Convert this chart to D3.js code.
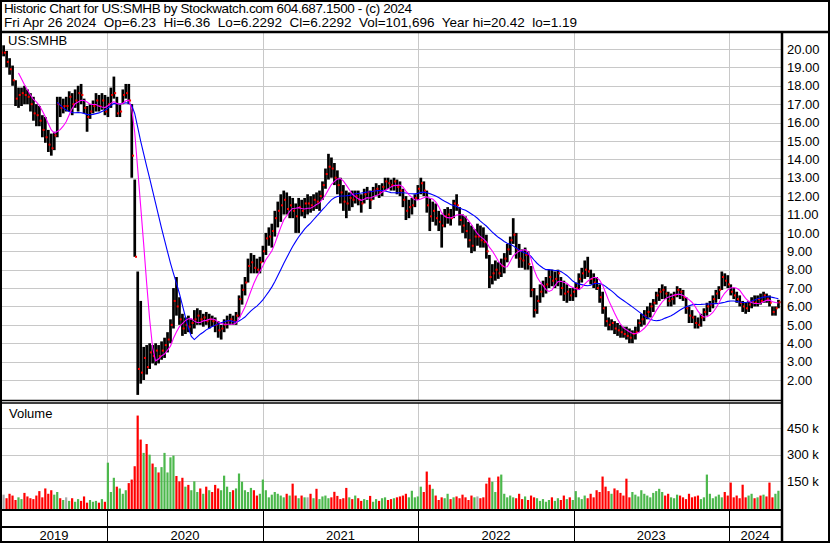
<!DOCTYPE html>
<html><head><meta charset="utf-8">
<script src="https://cdn.jsdelivr.net/npm/d3@7"></script>
<style>
html,body{margin:0;padding:0;background:#fff;}
svg{display:block;}
text{font-family:"Liberation Sans",Arial,sans-serif;white-space:pre;}
</style>
</head><body>
<svg id="c" width="830" height="543"></svg>
<script>
// ---------------- DATA (weekly) ----------------
const startDate = "2019-04-26";
const endDate = "2024-04-26";
const titleLine1 = "Historic Chart for US:SMHB by Stockwatch.com 604.687.1500 - (c) 2024";
const titleLine2 = "Fri Apr 26 2024  Op=6.23  Hi=6.36  Lo=6.2292  Cl=6.2292  Vol=101,696  Year hi=20.42  lo=1.19";
const symbolLabel = "US:SMHB";
const volumeLabel = "Volume";
const priceTicks = [2,3,4,5,6,7,8,9,10,11,12,13,14,15,16,17,18,19,20];
const volumeTicks = [150,300,450]; // thousands

const closes = [
 19.8,19.8,19.3,18.9,18.3,17.3,17.5,17.6,17.5,17.4,
 17.0,16.5,16.4,16.1,15.6,15.2,14.8,14.6,15.3,17.0,
 16.8,16.9,16.9,17.4,17.0,17.2,17.6,17.5,16.8,16.3,
 16.6,16.9,17.2,16.9,17.2,16.6,17.0,17.5,17.6,16.5,
 16.6,17.5,17.6,17.2,
 14.2,8.7,2.6,2.4,3.2,2.7,3.5,3.3,3.6,3.3,3.6,3.9,4.2,5.0,6.3,6.0,5.3,
 4.8,5.0,4.9,5.1,5.3,5.5,5.3,5.4,5.2,5.3,
 5.2,5.0,4.7,4.8,5.0,5.2,5.3,5.2,5.5,6.4,
 6.9,7.3,8.2,8.4,8.1,8.0,8.4,9.0,9.7,9.8,
 10.1,10.8,11.2,11.5,11.8,11.3,11.5,11.2,10.9,11.4,
 11.2,11.6,11.6,11.5,11.8,11.7,12.0,12.6,13.2,13.6,
 13.5,13.0,12.6,12.2,11.7,11.6,11.9,11.8,12.0,11.8,
 11.6,12.1,12.2,11.8,12.3,12.4,12.2,12.5,12.8,12.7,
 12.6,12.8,12.5,12.3,11.8,11.2,11.4,11.5,11.9,12.4,
 12.7,12.3,11.5,10.9,11.2,10.8,10.6,10.4,10.9,11.0,
 10.8,11.6,11.5,10.7,10.4,10.1,9.6,9.3,9.8,9.8,
 9.6,9.5,9.0,7.6,7.8,8.0,7.8,8.2,8.6,9.1,
 9.6,9.9,9.1,8.6,8.5,8.8,8.3,6.9,5.8,6.3,
 6.8,7.1,7.2,7.6,7.4,7.5,7.8,7.0,6.7,6.8,
 6.6,6.8,7.0,7.5,7.8,8.0,7.9,7.5,7.3,7.0,
 6.5,5.9,5.2,5.0,5.1,4.8,4.7,4.6,4.5,4.4,
 4.3,4.5,4.6,5.1,5.3,5.5,5.7,6.0,6.2,6.6,
 6.8,6.9,6.7,6.3,6.4,6.6,6.9,6.8,6.5,5.9,
 5.5,5.4,5.1,5.0,5.4,5.7,6.0,6.1,6.4,6.7,
 6.9,7.6,7.4,7.2,6.8,6.6,6.4,6.2,6.0,5.9,
 6.1,6.3,6.2,6.4,6.3,6.6,6.4,6.2,5.7,5.9,6.23
];
const highs = [
 20.4,20.2,19.9,19.5,19.1,18.3,17.9,17.9,18.0,17.8,
 17.6,17.4,17.0,16.9,16.4,16.3,15.6,15.4,15.5,17.4,
 17.4,17.3,17.4,17.7,17.6,17.8,18.0,18.1,17.3,16.9,
 17.0,17.2,17.6,17.5,17.6,17.5,17.4,17.9,18.5,17.4,
 17.0,17.8,18.1,18.1,
 17.0,12.9,7.9,6.3,3.8,3.9,4.0,3.9,4.0,3.9,4.1,4.3,4.6,5.3,7.0,7.6,6.5,
 5.6,5.4,5.5,5.3,5.8,5.9,5.8,5.6,5.7,5.6,
 5.5,5.4,5.2,5.0,5.3,5.5,5.6,5.5,5.7,6.6,
 7.2,7.6,8.6,8.9,8.8,8.6,8.7,9.3,10.0,10.3,
 10.5,11.2,11.7,12.1,12.3,12.2,12.0,11.9,11.6,11.9,
 11.8,11.9,12.1,12.0,12.1,12.2,12.3,12.8,13.5,14.3,
 14.1,13.8,13.4,13.0,12.6,12.3,12.2,12.3,12.3,12.3,
 12.1,12.4,12.5,12.3,12.5,12.7,12.6,12.7,13.0,13.0,
 12.9,13.0,12.9,12.8,12.4,12.0,11.8,11.9,12.1,12.6,
 13.0,12.8,12.3,11.9,11.7,11.6,11.2,11.0,11.3,11.4,
 11.3,11.8,12.1,11.4,11.0,10.9,10.6,10.4,10.2,10.5,
 10.4,10.3,9.9,8.8,8.3,8.5,8.4,8.6,8.9,9.4,
 9.8,10.8,10.0,9.4,9.1,9.2,9.0,8.2,7.0,6.6,
 7.2,7.4,7.6,8.0,8.0,7.9,8.0,7.6,7.4,7.2,
 7.0,7.0,7.3,7.8,8.1,8.5,8.7,8.0,7.8,7.6,
 7.2,6.8,6.0,5.4,5.3,5.2,5.1,5.0,4.9,4.9,
 4.8,4.7,4.9,5.3,5.6,5.8,6.0,6.2,6.4,6.8,
 7.0,7.2,7.1,6.8,6.7,6.8,7.1,7.0,6.9,6.5,
 6.0,5.8,5.5,5.4,5.6,5.9,6.2,6.3,6.6,6.9,
 7.1,7.9,7.8,7.7,7.2,7.0,6.8,6.6,6.3,6.2,
 6.3,6.5,6.6,6.6,6.7,6.8,6.7,6.6,6.0,6.0,6.36
];
const lows = [
 19.5,19.6,19.0,18.6,18.0,16.9,16.8,16.9,17.0,17.0,
 16.6,16.1,15.8,15.8,15.2,14.9,14.4,14.2,14.5,15.2,
 16.3,16.5,16.6,16.6,16.4,16.8,16.6,17.0,16.5,15.5,
 16.2,16.5,16.6,16.6,16.7,16.4,16.3,16.8,17.3,16.3,
 16.3,17.0,17.3,17.0,
 13.0,8.7,1.19,1.8,2.0,2.3,2.6,2.9,2.8,2.9,3.1,3.2,3.5,4.0,4.8,5.5,5.0,
 4.4,4.5,4.6,4.5,4.8,5.0,5.0,4.9,5.0,4.8,
 4.9,4.6,4.3,4.2,4.6,4.8,5.0,5.0,5.0,5.4,
 6.1,6.6,7.3,7.8,7.8,7.8,7.8,8.4,8.8,9.3,
 9.2,9.8,10.3,10.6,11.0,11.0,10.8,10.8,10.0,10.0,
 10.9,10.8,11.0,11.1,11.2,11.3,11.2,11.8,12.4,12.9,
 13.0,12.6,12.1,11.6,11.2,10.8,11.2,11.4,11.6,11.5,
 11.1,11.6,11.8,11.3,11.8,12.0,11.9,12.0,12.3,12.4,
 12.3,12.3,12.1,12.0,11.4,10.7,10.8,11.0,11.4,11.8,
 12.1,12.0,11.1,10.1,10.6,10.4,10.1,9.2,10.3,10.5,
 10.4,10.8,11.2,10.4,10.0,9.7,9.2,8.9,9.0,9.3,
 9.2,9.2,8.6,7.0,7.2,7.4,7.5,7.6,7.8,8.4,
 8.8,9.4,8.6,8.1,8.1,8.0,8.0,6.5,5.4,5.6,
 6.2,6.5,6.7,7.0,7.1,7.0,7.1,6.6,6.3,6.2,
 6.3,6.3,6.5,6.9,7.3,7.5,7.6,7.2,7.0,6.9,
 6.2,5.6,4.9,4.7,4.7,4.5,4.4,4.3,4.3,4.2,
 4.0,4.0,4.2,4.6,4.9,5.0,5.3,5.4,5.7,6.1,
 6.3,6.4,6.4,6.0,6.0,6.1,6.5,6.4,6.3,5.6,
 5.1,5.1,4.8,4.8,4.9,5.2,5.5,5.7,5.9,6.2,
 6.4,6.9,7.1,7.0,6.6,6.4,6.2,6.0,5.7,5.6,
 5.7,5.9,6.0,6.0,6.1,6.2,6.2,6.0,5.5,5.5,5.9
];
const volumes = [ // thousands
 60,75,55,80,70,45,60,50,85,65,55,50,
 70,95,60,110,80,100,75,90,55,
 45,60,40,55,35,50,40,65,30,45,35,40,30,50,35,
 255,90,170,120,110,80,100,140,
 160,235,520,385,310,360,300,
 250,230,200,230,310,200,285,295,180,150,
 170,120,130,100,150,90,110,80,120,100,
 90,130,110,100,182,120,90,100,110,194,
 148,100,90,113,100,70,80,160,100,60,
 75,90,80,70,60,80,70,137,70,55,
 70,60,60,80,55,108,50,65,70,55,
 60,91,68,50,55,113,60,50,70,55,
 40,50,45,68,35,50,40,55,60,45,
 50,55,60,65,70,80,60,97,60,65,
 120,90,205,131,108,70,45,60,55,80,
 50,60,65,55,75,60,45,70,60,65,
 55,60,137,171,148,90,177,188,80,60,
 70,60,55,80,50,65,45,70,60,55,
 40,50,35,45,60,40,55,45,70,50,
 60,45,95,60,50,70,55,80,60,100,
 90,177,120,95,80,110,100,85,70,165,
 60,90,75,65,100,80,70,60,85,95,
 108,90,70,80,60,55,75,70,60,50,
 80,60,65,70,50,60,188,80,55,65,
 75,60,90,70,143,60,70,55,131,60,
 70,80,55,60,70,75,65,143,60,80,97
];
const shortMA = 7;   // weeks (magenta)
const longMA = 20;   // weeks (blue)

// ---------------- BUILD ----------------
const parse = d3.utcParse("%Y-%m-%d");
const d0 = parse(startDate), d1 = parse(endDate);
const fridays = d3.utcFriday.range(d0, d3.utcDay.offset(d1, 1));
const n = fridays.length;
[closes, highs, lows, volumes].forEach((a, k) => {
  if (a.length !== n) throw new Error("length mismatch arr " + k + ": " + a.length + " vs " + n);
});
const data = fridays.map((d, i) => ({date: d, c: closes[i], h: highs[i], l: lows[i], v: volumes[i]}));

const svg = d3.select("#c");
const W = 830, H = 543;
const plotL = 1, plotR = 781;
const priceTop = 33, priceBot = 400;
const volTop = 403, volBot = 509;

const x = d3.scaleUtc().domain([d0, d1]).range([0.6, 778.4]);
const y = d3.scaleLinear().domain([2, 20]).range([380, 49]);
const yv = d3.scaleLinear().domain([0, 450]).range([508, 428]);

svg.append("rect").attr("width", W).attr("height", H).attr("fill", "#fff");

// header
svg.append("text").attr("x", 4).attr("y", 12.5).attr("font-size", 13.5)
  .attr("textLength", 408).attr("lengthAdjust", "spacing").text(titleLine1);
svg.append("text").attr("x", 4).attr("y", 27).attr("font-size", 13.5)
  .attr("textLength", 573).attr("lengthAdjust", "spacing").text(titleLine2);

const grid = "#c8c8c8";
const yearStarts = d3.utcYear.range(d3.utcYear.ceil(d0), d1);

// price grid
const pg = svg.append("g");
pg.selectAll("line.h").data(priceTicks).join("line")
  .attr("x1", plotL).attr("x2", plotR)
  .attr("y1", d => Math.round(y(d)) + 0.5).attr("y2", d => Math.round(y(d)) + 0.5)
  .attr("stroke", grid);
pg.selectAll("line.v").data(yearStarts).join("line")
  .attr("x1", d => Math.round(x(d)) + 0.5).attr("x2", d => Math.round(x(d)) + 0.5)
  .attr("y1", priceTop).attr("y2", priceBot).attr("stroke", grid);

// volume grid
const vg = svg.append("g");
vg.selectAll("line.h").data(volumeTicks).join("line")
  .attr("x1", plotL).attr("x2", plotR)
  .attr("y1", d => Math.round(yv(d)) + 0.5).attr("y2", d => Math.round(yv(d)) + 0.5)
  .attr("stroke", grid);
vg.selectAll("line.v").data(yearStarts).join("line")
  .attr("x1", d => Math.round(x(d)) + 0.5).attr("x2", d => Math.round(x(d)) + 0.5)
  .attr("y1", volTop).attr("y2", volBot).attr("stroke", grid);

// clip for price panel
svg.append("clipPath").attr("id", "pc").append("rect")
  .attr("x", plotL).attr("y", priceTop).attr("width", plotR - plotL).attr("height", priceBot - priceTop);

const pp = svg.append("g").attr("clip-path", "url(#pc)");
// price bars
pp.selectAll("rect.bar").data(data).join("rect")
  .attr("x", d => x(d.date) - 1.3).attr("width", 2.7)
  .attr("y", d => y(d.h)).attr("height", d => Math.max(1, y(d.l) - y(d.h)))
  .attr("fill", "#000");
pp.selectAll("rect.cl").data(data).join("rect")
  .attr("x", d => x(d.date) + 0.3).attr("width", 2)
  .attr("y", d => y(d.c) - 1).attr("height", 2)
  .attr("fill", "#ff0000");

// moving averages
function sma(k) {
  return data.map((d, i) => i < k - 1 ? null : {date: d.date, v: d3.mean(data.slice(i - k + 1, i + 1), e => e.c)}).filter(e => e);
}
const line = d3.line().x(d => x(d.date)).y(d => y(d.v));
pp.append("path").datum(sma(longMA)).attr("d", line).attr("fill", "none").attr("stroke", "#0000ff").attr("stroke-width", 1.1);
pp.append("path").datum(sma(shortMA)).attr("d", line).attr("fill", "none").attr("stroke", "#ff00ff").attr("stroke-width", 1.1);

// volume bars
svg.append("g").selectAll("rect").data(data).join("rect")
  .attr("x", d => x(d.date) - 1.1).attr("width", 2.2)
  .attr("y", d => yv(d.v)).attr("height", d => volBot - yv(d.v))
  .attr("fill", (d, i) => i === 0 ? "#4cb84c" : (d.c < data[i - 1].c ? "#ff0000" : (d.c > data[i - 1].c ? "#4cb84c" : "#aaaaaa")));

// labels
svg.append("text").attr("x", 8).attr("y", 45).attr("font-size", 13).text(symbolLabel);
svg.append("text").attr("x", 9).attr("y", 418).attr("font-size", 13).text(volumeLabel);

// axes
const ax = svg.append("g").attr("transform", `translate(${plotR},0)`)
  .call(d3.axisRight(y).tickValues(priceTicks).tickFormat(d3.format(".2f")).tickSize(0).tickPadding(6));
ax.select(".domain").remove();
ax.selectAll("text").attr("font-size", 13).attr("font-family", "Liberation Sans, Arial, sans-serif").attr("fill", "#000");
const avx = svg.append("g").attr("transform", `translate(${plotR},0)`)
  .call(d3.axisRight(yv).tickValues(volumeTicks).tickFormat(d => d + " k").tickSize(0).tickPadding(6));
avx.select(".domain").remove();
avx.selectAll("text").attr("font-size", 13).attr("font-family", "Liberation Sans, Arial, sans-serif").attr("fill", "#000");

// frame lines
const fr = svg.append("g").attr("stroke", "#000").attr("fill", "none");
fr.append("rect").attr("x", 1).attr("y", 1).attr("width", W - 2).attr("height", H - 2).attr("stroke-width", 2);
fr.append("line").attr("x1", 0).attr("x2", W).attr("y1", 32).attr("y2", 32).attr("stroke-width", 2.5);
fr.append("line").attr("x1", plotR + 1).attr("x2", plotR + 1).attr("y1", 31).attr("y2", H).attr("stroke-width", 2.5);
fr.append("line").attr("x1", 0).attr("x2", plotR).attr("y1", 400.5).attr("y2", 400.5).attr("stroke-width", 1.5);
fr.append("line").attr("x1", 0).attr("x2", plotR).attr("y1", 403).attr("y2", 403).attr("stroke-width", 1.5);
fr.append("line").attr("x1", 0).attr("x2", plotR).attr("y1", 510).attr("y2", 510).attr("stroke-width", 2);
fr.append("line").attr("x1", 0).attr("x2", plotR).attr("y1", 527).attr("y2", 527).attr("stroke-width", 2);
fr.selectAll("line.ys").data(yearStarts).join("line")
  .attr("x1", d => Math.round(x(d)) + 0.5).attr("x2", d => Math.round(x(d)) + 0.5)
  .attr("y1", 510).attr("y2", H).attr("stroke-width", 1);

// year labels
const bounds = [plotL, ...yearStarts.map(d => x(d)), plotR];
const yrs = [d3.utcYear.floor(d0), ...yearStarts];
svg.append("g").selectAll("text").data(yrs).join("text")
  .attr("x", (d, i) => (bounds[i] + bounds[i + 1]) / 2)
  .attr("y", 540).attr("text-anchor", "middle").attr("font-size", 13)
  .text(d => d3.utcFormat("%Y")(d));
</script>
</body></html>
